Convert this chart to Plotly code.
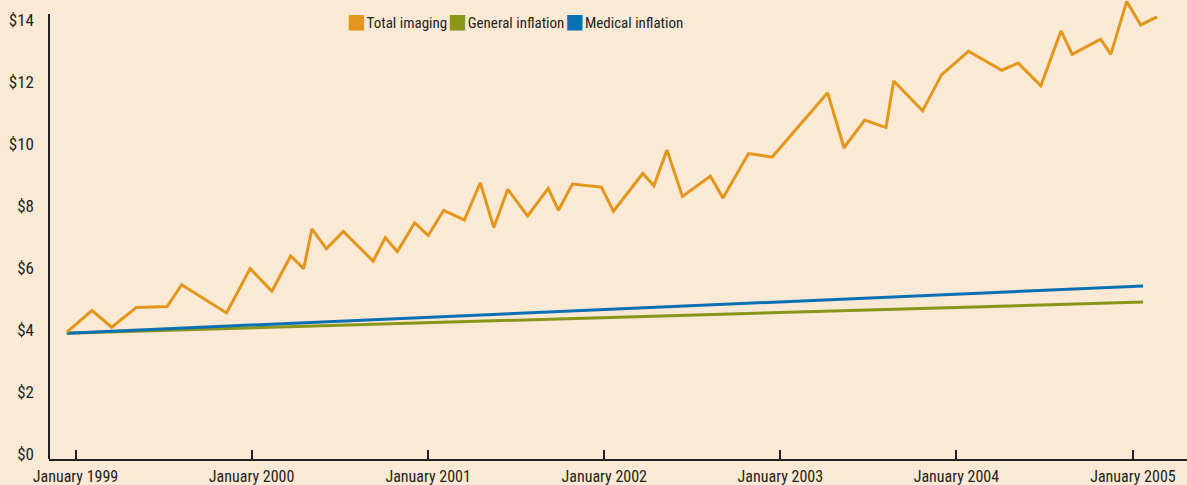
import plotly.graph_objects as go

# ---- data ----
imaging_dates = [
    "1998-12-14", "1999-02-04", "1999-03-17", "1999-05-07", "1999-07-10", "1999-08-09",
    "1999-11-10", "1999-12-29", "2000-02-12", "2000-03-22", "2000-04-18", "2000-05-05",
    "2000-06-04", "2000-07-09", "2000-09-09", "2000-10-04", "2000-10-29", "2000-12-04",
    "2001-01-01", "2001-02-02", "2001-03-17", "2001-04-19", "2001-05-17", "2001-06-15",
    "2001-07-26", "2001-09-07", "2001-09-28", "2001-10-27", "2001-12-26", "2002-01-20",
    "2002-03-22", "2002-04-14", "2002-05-11", "2002-06-12", "2002-08-09", "2002-09-04",
    "2002-10-27", "2002-12-15", "2003-04-09", "2003-05-13", "2003-06-25", "2003-08-08",
    "2003-08-24", "2003-10-23", "2003-12-01", "2004-01-26", "2004-04-04", "2004-05-08",
    "2004-06-24", "2004-08-05", "2004-08-28", "2004-10-26", "2004-11-16", "2004-12-19",
    "2005-01-17", "2005-02-20",
]
total_imaging = [
    3.93, 4.63, 4.09, 4.73, 4.76, 5.46,
    4.55, 5.98, 5.25, 6.39, 5.98, 7.26,
    6.62, 7.18, 6.22, 6.98, 6.53, 7.46,
    7.05, 7.86, 7.55, 8.75, 7.31, 8.54,
    7.68, 8.57, 7.86, 8.71, 8.61, 7.83,
    9.05, 8.65, 9.81, 8.31, 8.96, 8.26,
    9.69, 9.58, 11.65, 9.88, 10.77, 10.53,
    12.03, 11.07, 12.23, 12.99, 12.38, 12.61,
    11.88, 13.65, 12.89, 13.38, 12.89, 14.60,
    13.84, 14.10,
]
inflation_dates = ["1998-12-14", "2005-01-22"]
general_inflation = [3.90, 4.90]
medical_inflation = [3.90, 5.42]

series_names = ["Total imaging", "General inflation", "Medical inflation"]
series_colors = ["#E3961C", "#8A961A", "#0A70B4"]

x_tick_vals = ["1999-01-01", "2000-01-01", "2001-01-01", "2002-01-01",
               "2003-01-01", "2004-01-01", "2005-01-01"]
x_tick_text = ["January 1999", "January 2000", "January 2001", "January 2002",
               "January 2003", "January 2004", "January 2005"]
y_tick_vals = [0, 2, 4, 6, 8, 10, 12, 14]
y_tick_text = ["$0", "$2", "$4", "$6", "$8", "$10", "$12", "$14"]

# ---- style ----
BG = "#FAE9D4"
INK = "#231F20"
FONT = "Roboto Condensed, Liberation Sans Narrow, Roboto, Liberation Sans, sans-serif"

fig = go.Figure()
fig.add_trace(go.Scatter(x=inflation_dates, y=general_inflation, mode="lines",
                         name=series_names[1], line=dict(color=series_colors[1], width=3),
                         showlegend=False))
fig.add_trace(go.Scatter(x=inflation_dates, y=medical_inflation, mode="lines",
                         name=series_names[2], line=dict(color=series_colors[2], width=3),
                         showlegend=False))
fig.add_trace(go.Scatter(x=imaging_dates, y=total_imaging, mode="lines",
                         name=series_names[0], line=dict(color=series_colors[0], width=3),
                         showlegend=False))

# custom legend: coloured squares + labels in one centred line
legend_parts = []
for name, col in zip(series_names, series_colors):
    legend_parts.append(
        f"<span style='color:{col};font-size:20px;font-family:DejaVu Sans'>■</span>"
        f"<span style='font-size:3px'> </span>{name}"
    )
legend_text = "<span style='font-size:4px'> </span>".join(legend_parts)
fig.add_annotation(xref="paper", yref="paper", x=(515 - 49) / 1138, y=1 - 21 / 459,
                   xanchor="center", yanchor="middle", showarrow=False,
                   text=legend_text, font=dict(family=FONT, size=15, color=INK))

# y axis line (ends below the top of the plot)
fig.add_shape(type="line", xref="paper", yref="y", x0=0, x1=0, y0=-0.16, y1=14.19,
              line=dict(color=INK, width=2))

fig.update_layout(
    width=1187, height=485,
    margin=dict(l=49, r=0, t=0, b=26, autoexpand=False),
    paper_bgcolor=BG, plot_bgcolor=BG,
    font=dict(family=FONT, size=16, color=INK),
    showlegend=False,
    xaxis=dict(
        type="date", range=["1998-11-07", "2005-04-23"],
        tickvals=x_tick_vals, ticktext=x_tick_text,
        showgrid=False, zeroline=False, automargin=False,
        showline=True, linecolor=INK, linewidth=2,
        ticks="inside", ticklen=9, tickwidth=2, tickcolor=INK,
        ticklabelstandoff=2,
        tickfont=dict(family=FONT, size=16, color=INK),
    ),
    yaxis=dict(
        range=[-0.16, 14.645],
        tickvals=y_tick_vals, ticktext=y_tick_text,
        showgrid=False, zeroline=False, showline=False, automargin=False,
        ticks="", ticklabelstandoff=14,
        tickfont=dict(family=FONT, size=17, color=INK),
    ),
)

fig.write_html(
    "out.html",
    config={"displayModeBar": False},
    post_script="document.body.style.margin='0';document.body.style.overflow='hidden';",
)
